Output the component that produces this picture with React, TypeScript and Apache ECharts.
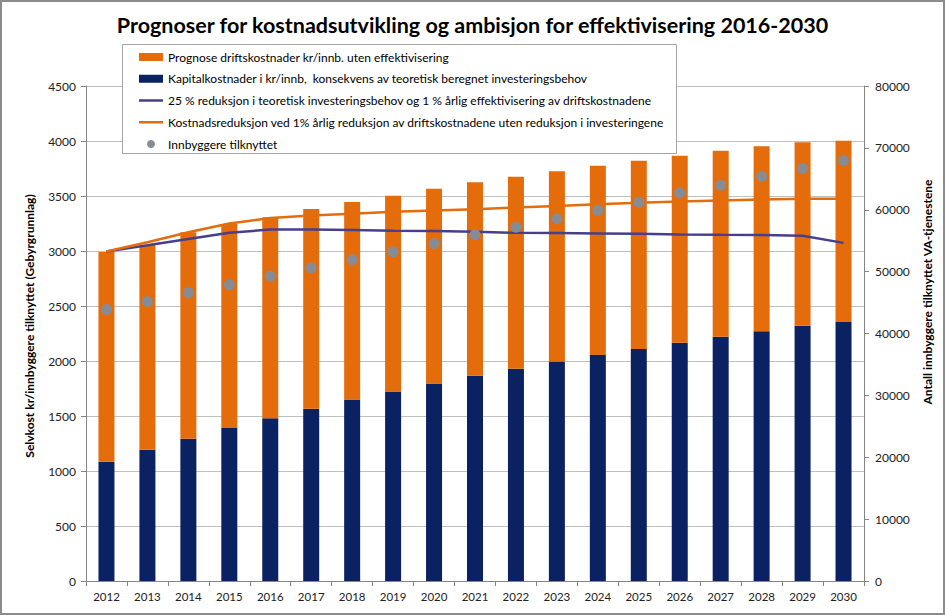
import React, { useEffect, useRef } from "react";
import * as echarts from "echarts";

const years = ["2012","2013","2014","2015","2016","2017","2018","2019","2020","2021","2022","2023","2024","2025","2026","2027","2028","2029","2030"];
const kapitalkostnader = [1084, 1193, 1293, 1390, 1480, 1565, 1650, 1723, 1795, 1865, 1930, 1995, 2055, 2110, 2165, 2220, 2270, 2320, 2360];
const driftskostnader = [1906, 1862, 1877, 1855, 1826, 1817, 1795, 1780, 1772, 1759, 1746, 1729, 1721, 1711, 1702, 1692, 1682, 1668, 1643];
const reduksjon25 = [2995, 3052, 3110, 3165, 3195, 3195, 3190, 3185, 3182, 3175, 3165, 3163, 3160, 3157, 3150, 3147, 3145, 3138, 3074];
const kostnadsreduksjon = [2995, 3080, 3170, 3250, 3300, 3323, 3338, 3357, 3368, 3380, 3395, 3410, 3425, 3438, 3450, 3459, 3468, 3474, 3474];
const innbyggere = [43880, 45170, 46580, 47870, 49270, 50620, 51910, 53200, 54550, 55950, 57180, 58530, 59930, 61220, 62740, 63970, 65370, 66670, 67960];

const nameDrift = "Prognose driftskostnader kr/innb. uten effektivisering";
const nameKapital = "Kapitalkostnader i kr/innb,  konsekvens av teoretisk beregnet investeringsbehov";
const name25 = "25 % reduksjon i teoretisk investeringsbehov og 1 % årlig effektivisering av driftskostnadene";
const nameKost = "Kostnadsreduksjon ved 1% årlig reduksjon av driftskostnadene uten reduksjon i investeringene";
const nameInnb = "Innbyggere tilknyttet";

const FONT = "Lato, 'Noto Sans', sans-serif";
const LINE_ICON = "path://M0,0L24,0L24,2.5L0,2.5Z";

export default function App() {
  const ref = useRef<HTMLDivElement>(null);
  useEffect(() => {
    if (!ref.current) return;
    const chart = echarts.init(ref.current, undefined, { renderer: "svg" });
    const axisLineColor = "#868686";
    const plain = (v: number) => String(v);
    chart.setOption({
      animation: false,
      backgroundColor: "#ffffff",
      textStyle: { fontFamily: FONT },
      title: {
        text: "Prognoser for kostnadsutvikling og ambisjon for effektivisering 2016-2030",
        left: "center",
        top: 9,
        textStyle: { fontFamily: FONT, fontSize: 21.5, fontWeight: "bold", color: "#000" },
      },
      grid: { left: 86, right: 81, top: 86, bottom: 34, containLabel: false },
      legend: {
        orient: "vertical",
        left: 139,
        top: 50,
        padding: 0,
        itemWidth: 24,
        itemHeight: 8,
        itemGap: 7.75,
        textStyle: { fontFamily: FONT, fontSize: 12, color: "#000", lineHeight: 14 },
        data: [
          { name: nameDrift, icon: "rect" },
          { name: nameKapital, icon: "rect" },
          { name: name25, icon: LINE_ICON },
          { name: nameKost, icon: LINE_ICON },
          { name: nameInnb, icon: "circle" },
        ],
      },
      graphic: [
        {
          type: "rect",
          z: 1,
          shape: { x: 122.5, y: 44.5, width: 554, height: 109 },
          style: { fill: "#ffffff", stroke: "#a6a6a6", lineWidth: 1 },
        },
        {
          type: "text",
          z: 5,
          x: 29,
          y: 326,
          rotation: Math.PI / 2,
          style: {
            text: "Selvkost kr/innbyggere tilknyttet (Gebyrgrunnlag)",
            fontFamily: FONT,
            fontSize: 12,
            fontWeight: "bold",
            fill: "#000",
            textAlign: "center",
            textVerticalAlign: "middle",
          },
        },
        {
          type: "text",
          z: 5,
          x: 927,
          y: 292,
          rotation: Math.PI / 2,
          style: {
            text: "Antall innbyggere tilknyttet VA-tjenestene",
            fontFamily: FONT,
            fontSize: 12,
            fontWeight: "bold",
            fill: "#000",
            textAlign: "center",
            textVerticalAlign: "middle",
          },
        },
        {
          type: "rect",
          z: 10,
          silent: true,
          shape: { x: 1, y: 1, width: 943, height: 613 },
          style: { fill: "none", stroke: "#8c8c8c", lineWidth: 2 },
        },
      ],
      xAxis: {
        type: "category",
        data: years,
        axisLine: { lineStyle: { color: axisLineColor } },
        axisTick: { show: true, length: 5, lineStyle: { color: axisLineColor } },
        axisLabel: { fontFamily: FONT, fontSize: 11.5, color: "#222", margin: 9 },
      },
      yAxis: [
        {
          type: "value",
          min: 0,
          max: 4500,
          interval: 500,
          axisLine: { show: true, lineStyle: { color: axisLineColor } },
          axisTick: { show: true, length: 5, lineStyle: { color: axisLineColor } },
          axisLabel: { fontFamily: FONT, fontSize: 12, color: "#222", margin: 10, formatter: plain },
          splitLine: { show: true, lineStyle: { color: "#c0c0c0", width: 1 } },
        },
        {
          type: "value",
          min: 0,
          max: 80000,
          interval: 10000,
          position: "right",
          axisLine: { show: true, lineStyle: { color: axisLineColor } },
          axisTick: { show: true, length: 5, lineStyle: { color: axisLineColor } },
          axisLabel: { fontFamily: FONT, fontSize: 12, color: "#222", margin: 11, formatter: plain },
          splitLine: { show: false },
        },
      ],
      series: [
        {
          name: nameKapital,
          type: "bar",
          stack: "kost",
          barWidth: 16,
          data: kapitalkostnader,
          itemStyle: { color: "#0b2262" },
          z: 2,
        },
        {
          name: nameDrift,
          type: "bar",
          stack: "kost",
          barWidth: 16,
          data: driftskostnader,
          itemStyle: { color: "#e46c0a" },
          z: 2,
        },
        {
          name: name25,
          type: "line",
          data: reduksjon25,
          symbol: "none",
          lineStyle: { color: "#463f8e", width: 2.5 },
          itemStyle: { color: "#463f8e" },
          z: 3,
        },
        {
          name: nameKost,
          type: "line",
          data: kostnadsreduksjon,
          symbol: "none",
          lineStyle: { color: "#e46c0a", width: 2.5 },
          itemStyle: { color: "#e46c0a" },
          z: 3,
        },
        {
          name: nameInnb,
          type: "scatter",
          yAxisIndex: 1,
          data: innbyggere,
          symbol: "circle",
          symbolSize: 11,
          itemStyle: { color: "#878c94", opacity: 1 },
          z: 4,
        },
      ],
    });
    return () => chart.dispose();
  }, []);
  return (
    <div
      ref={ref}
      style={{ position: "fixed", left: 0, top: 0, width: 945, height: 615, background: "#fff" }}
    />
  );
}
